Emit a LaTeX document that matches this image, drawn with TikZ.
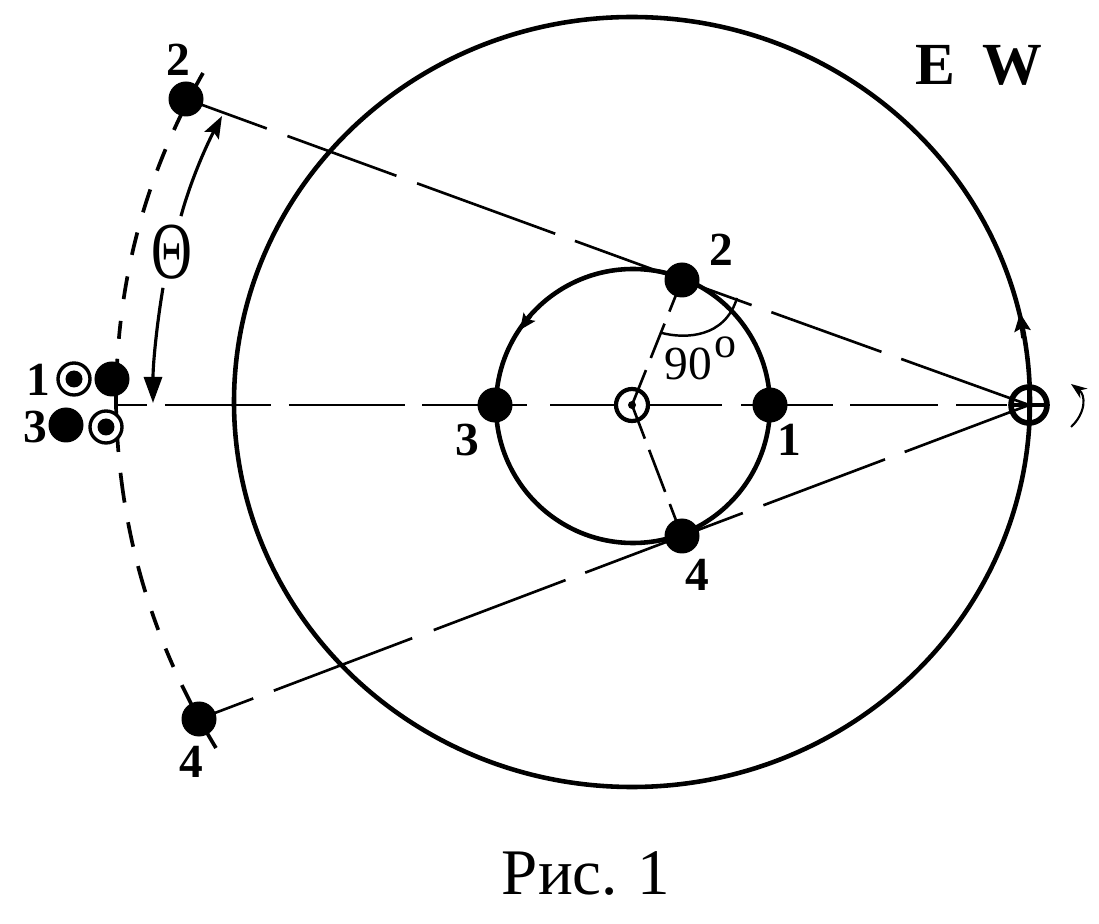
\documentclass[tikz,border=0pt]{standalone}
\usepackage{fontspec}
\setmainfont{Liberation Serif}
\usetikzlibrary{arrows.meta}
\usetikzlibrary{backgrounds}

\tikzset{
  planet/.style={circle, fill=black, minimum size=.35cm, inner sep=0pt, outer sep=0pt},
  ringdot/.style={circle, draw=black, line width=.95pt, fill=white, minimum size=.32cm, inner sep=0pt, outer sep=0pt},
  core/.style={circle, fill=black, minimum size=.17cm, inner sep=0pt, outer sep=0pt},
  numlabel/.style={font=\fontsize{13.5}{14}\selectfont\bfseries, inner sep=0pt},
  bigletter/.style={font=\fontsize{17}{18}\selectfont\bfseries, inner sep=0pt},
  sight/.style={black, line width=.75pt},
  orbit/.style={black, line width=1.3pt},
  arcline/.style={black, line width=1.05pt}
}

\begin{document}
\begin{tikzpicture}
\useasboundingbox (0,0) rectangle (10.99,9.23);

\coordinate (C) at (6.33,5.17);
\coordinate (Gap) at (1.16,5.18);
\coordinate (ArcTop) at (2.03,8.5);
\coordinate (ArcBot) at (2.16,1.75);

\node[planet] (P1) at (7.70,5.18) {};
\node[planet] (P2) at (6.82,6.43) {};
\node[planet] (P3) at (4.95,5.18) {};
\node[planet] (P4) at (6.82,3.87) {};
\node[planet] (F2) at (1.86,8.24) {};
\node[planet] (F4) at (1.99,2.04) {};
\node[ringdot, line width=1.2pt] (S) at (6.32,5.18) {};
\node[core, minimum size=.08cm] (Sd) at (S.center) {};
\node[circle, draw=black, line width=1.6pt, minimum size=.36cm, inner sep=0pt, outer sep=0pt] (T) at (10.29,5.18) {};

% group at the left
\node[ringdot] (R1) at (.74,5.44) {};
\node[core] (R1d) at (R1.center) {};
\node[planet] (D1) at (1.12,5.44) {};
\node[planet] (D3) at (.66,4.98) {};
\node[ringdot] (R3) at (1.06,4.96) {};
\node[core] (R3d) at (R3.center) {};

\begin{scope}[on background layer]
\draw[orbit] (6.32,5.21) ellipse (3.98 and 3.85);
\draw[orbit] (C) circle (1.37);
\draw[sight, dash pattern=on .86cm off .22cm on 1.16cm off .22cm on 1.47cm off .21cm on 3cm off 1cm] (F2.center)--(P2.center);
\draw[sight, dash pattern=on .74cm off .21cm on 1.17cm off .21cm on 3cm off 1cm] (P2.center)--(T.center);
\draw[sight, dash pattern=on .58cm off .22cm on 1.48cm off .23cm on 1.41cm off .21cm on 3cm off 1cm] (F4.center)--(P4.center);
\draw[sight, dash pattern=on .65cm off .22cm on 1.30cm off .21cm on 3cm off 1cm] (P4.center)--(T.center);
\draw[sight, dash pattern=on .31cm off .18cm on 1.06cm off .18cm on 1.16cm off .17cm on 1.05cm off .23cm on 1.72cm off .19cm on .92cm off .17cm on .88cm off .18cm on .51cm off .12cm on 1cm off 1cm] (Gap)--(T.center);
\draw[arcline, dash pattern=on .64cm off .21cm on .23cm off .2cm on .24cm off .21cm on .23cm off .22cm on .23cm off .22cm on .18cm off .2cm on 1cm off 1cm] (ArcTop) .. controls (1.35,7.3) and (1.16,6.2) .. (Gap);
\draw[arcline, dash pattern=on .47cm off .21cm on .3cm off .2cm on .25cm off .2cm on .27cm off .2cm on .2cm off .2cm on .2cm off .2cm on 1cm off 1cm] (Gap) .. controls (1.18,4.18) and (1.40,3.0) .. (ArcBot);
\end{scope}

\draw[sight, dash pattern=on .34cm off .13cm on .37cm off .13cm on 2cm off 1cm] (P2.center)--(S.center);
\draw[sight, dash pattern=on .36cm off .12cm on .45cm off .13cm on 2cm off 1cm] (S.center)--(P4.center);
\draw[line width=.9pt] (T.west)--(T.east);
\draw[line width=.9pt] (T.north)--(T.south);

% motion along the orbits
\draw[orbit, -{Stealth[length=.18cm,width=.16cm,inset=.03cm]}] (10.235,5.85) -- (10.20,6.10);
\draw[orbit, -{Stealth[length=.16cm,width=.14cm,inset=.03cm]}] (5.30,6.07) -- (5.20,5.93);

% angle Theta
\node[inner sep=0pt, font=\fontsize{23}{25}\selectfont] (Th) at (1.72,6.71) {\scalebox{.7}[1]{Θ}};
\draw[line width=.9pt, -{Stealth[length=.22cm,width=.16cm,inset=.04cm]}] (Th.north) ++(.09,.08) .. controls (1.9,7.4) and (2.05,7.75) .. (2.22,8.07);
\draw[line width=.9pt, -{Stealth[length=.26cm,width=.18cm,inset=0pt]}] (Th.south) ++(-.09,-.08) .. controls (1.57,6.0) and (1.53,5.6) .. (1.53,5.2);

% angle 90
\draw[line width=.7pt] (6.62,5.9) .. controls (6.85,5.84) and (7.25,5.85) .. (7.37,6.25);
\node[inner sep=0pt, font=\fontsize{13.5}{14}\selectfont] (Ang) at (6.88,5.59) {90};
\node[inner sep=0pt, font=\fontsize{12.5}{13}\selectfont] (Deg) at (7.25,5.76) {o};

% rotation of the Earth
\draw[line width=.6pt, -{Stealth[length=.16cm,width=.12cm]}] (10.71,4.96) .. controls (10.86,5.1) and (10.86,5.28) .. (10.71,5.39);

% labels
\node[numlabel] (L2) at (1.78,8.63) {2};
\node[numlabel] (L4) at (1.91,1.61) {4};
\node[numlabel] (L21) at (7.21,6.73) {2};
\node[numlabel] (L11) at (7.89,4.83) {1};
\node[numlabel] (L31) at (4.67,4.83) {3};
\node[numlabel] (L41) at (6.97,3.48) {4};
\node[numlabel] (L12) at (.38,5.43) {1};
\node[numlabel] (L32) at (.35,4.96) {3};
\node[bigletter] (E) at (9.35,8.58) {E};
\node[bigletter] (W) at (10.12,8.58) {W};
\node[font=\fontsize{18.5}{22}\selectfont, inner sep=0pt] (Cap) at (5.86,.5) {Рис.\hspace{.3em}1};
\end{tikzpicture}
\end{document}
